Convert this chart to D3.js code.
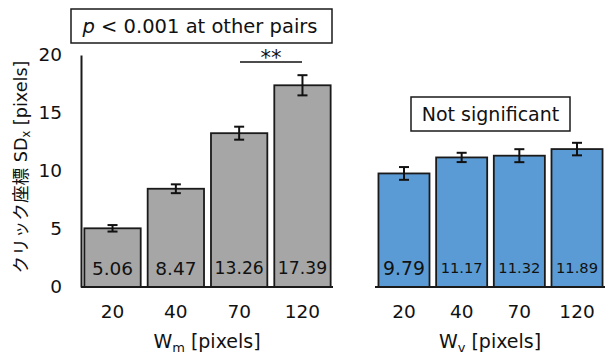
<!DOCTYPE html>
<html>
<head>
<meta charset="utf-8">
<script src="https://cdn.jsdelivr.net/npm/d3@7"></script>
<style>
  html, body { margin: 0; padding: 0; background: #fff; }
  svg { display: block; }
  text { font-family: "DejaVu Sans", Verdana, sans-serif; fill: #111; }
</style>
</head>
<body>
<svg id="chart" width="608" height="354"></svg>
<script>
// Click-position spread (SDx) by target width, two conditions
const categories = ["20", "40", "70", "120"];
const motorMeans = [5.06, 8.47, 13.26, 17.39];
const motorErrors = [0.28, 0.38, 0.56, 0.87];
const visualMeans = [9.79, 11.17, 11.32, 11.89];
const visualErrors = [0.55, 0.40, 0.56, 0.54];
const yTicks = [0, 5, 10, 15, 20];

const svg = d3.select("#chart");
const y = d3.scaleLinear().domain([0, 20]).range([287, 55]);

const xLeft = d3.scaleBand().domain(categories).range([81, 334])
  .paddingInner(0.11).paddingOuter(0.053);
const xRight = d3.scaleBand().domain(categories).range([375, 606])
  .paddingInner(0.115).paddingOuter(0.06);

function drawPanel(x, means, errors, fill, labelSizes) {
  const g = svg.append("g");
  const rows = categories.map((c, i) => ({ c, v: means[i], e: errors[i], fs: labelSizes[i] }));

  g.selectAll("rect.bar").data(rows).enter().append("rect")
    .attr("class", "bar")
    .attr("x", d => x(d.c))
    .attr("y", d => y(d.v))
    .attr("width", x.bandwidth())
    .attr("height", d => y(0) - y(d.v))
    .attr("fill", fill)
    .attr("stroke", "#1a1a1a")
    .attr("stroke-width", 1.8);

  // error bars
  const eb = g.selectAll("g.err").data(rows).enter().append("g")
    .attr("stroke", "#111").attr("stroke-width", 2);
  eb.append("line")
    .attr("x1", d => x(d.c) + x.bandwidth() / 2)
    .attr("x2", d => x(d.c) + x.bandwidth() / 2)
    .attr("y1", d => y(d.v + d.e))
    .attr("y2", d => y(d.v - d.e));
  [1, -1].forEach(s => {
    eb.append("line")
      .attr("x1", d => x(d.c) + x.bandwidth() / 2 - 5)
      .attr("x2", d => x(d.c) + x.bandwidth() / 2 + 5)
      .attr("y1", d => y(d.v + s * d.e))
      .attr("y2", d => y(d.v + s * d.e));
  });

  // value labels inside bars
  g.selectAll("text.val").data(rows).enter().append("text")
    .attr("x", d => x(d.c) + x.bandwidth() / 2)
    .attr("y", 268)
    .attr("dy", "0.36em")
    .attr("text-anchor", "middle")
    .attr("font-size", d => d.fs)
    .text(d => d.v.toFixed(2));

  // baseline and category ticks
  const axis = g.append("g").attr("transform", `translate(0,${y(0)})`)
    .call(d3.axisBottom(x).tickSize(0).tickPadding(18));
  axis.select(".domain").attr("stroke", "#1a1a1a").attr("stroke-width", 2)
    .attr("d", `M${x.range()[0]},0H${x.range()[1] - 1}`);
  axis.selectAll("text").attr("font-size", 18.5)
    .attr("font-family", "DejaVu Sans, Verdana, sans-serif").attr("fill", "#111");
  return g;
}

drawPanel(xLeft, motorMeans, motorErrors, "#a6a6a6", [18.5, 18.5, 17.2, 17.2]);
drawPanel(xRight, visualMeans, visualErrors, "#5b9bd5", [18.8, 14.7, 14.7, 14.7]);

// left value axis (line without ticks)
const yAxis = svg.append("g").attr("transform", "translate(81,0)")
  .call(d3.axisLeft(y).tickValues(yTicks).tickSize(0).tickPadding(19));
yAxis.select(".domain").attr("stroke", "#1a1a1a").attr("stroke-width", 2);
yAxis.selectAll("text").attr("font-size", 18.5)
  .attr("font-family", "DejaVu Sans, Verdana, sans-serif").attr("fill", "#111");

// axis titles with subscripts
function subTitle(cx, cy, main, sub, rest) {
  const t = svg.append("text").attr("x", cx).attr("y", cy)
    .attr("text-anchor", "middle").attr("font-size", 19);
  t.append("tspan").text(main);
  t.append("tspan").attr("font-size", 13).attr("dy", 4).text(sub);
  t.append("tspan").attr("dy", -4).text(rest);
  return t;
}
subTitle(207, 348, "W", "m", " [pixels]");
subTitle(490, 348, "W", "v", " [pixels]");

// rotated value-axis title
const yt = svg.append("text")
  .attr("transform", "translate(27,167) rotate(-90)")
  .attr("text-anchor", "middle").attr("font-size", 17.6);
yt.append("tspan").attr("font-family", "Noto Sans CJK JP").text("クリック座標");
yt.append("tspan").text(" SD");
yt.append("tspan").attr("font-size", 11.5).attr("dy", 3).text("x");
yt.append("tspan").attr("dy", -3).text(" [pixels]");

// significance notes
svg.append("rect").attr("x", 71).attr("y", 9).attr("width", 261).attr("height", 34)
  .attr("fill", "#fff").attr("stroke", "#1a1a1a").attr("stroke-width", 1.5);
const pt = svg.append("text").attr("x", 200).attr("y", 26).attr("dy", "0.36em")
  .attr("text-anchor", "middle").attr("font-size", 19.5);
pt.append("tspan").attr("font-style", "italic").text("p");
pt.append("tspan").text(" < 0.001 at other pairs");

svg.append("line").attr("x1", 240).attr("x2", 302).attr("y1", 62).attr("y2", 62)
  .attr("stroke", "#111").attr("stroke-width", 1.5);
svg.append("text").attr("x", 271).attr("y", 57).attr("dy", "0.36em")
  .attr("text-anchor", "middle").attr("font-size", 21).text("**");

svg.append("rect").attr("x", 411).attr("y", 97).attr("width", 159).attr("height", 34)
  .attr("fill", "#fff").attr("stroke", "#1a1a1a").attr("stroke-width", 1.5);
svg.append("text").attr("x", 490.5).attr("y", 114).attr("dy", "0.36em")
  .attr("text-anchor", "middle").attr("font-size", 19).text("Not significant");
</script>
</body>
</html>
